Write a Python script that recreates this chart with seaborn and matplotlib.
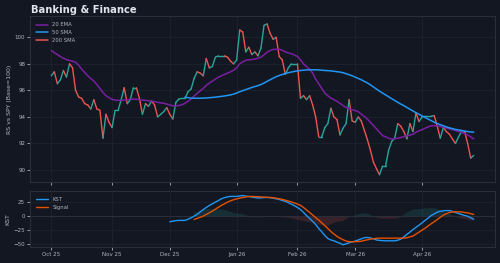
import matplotlib
matplotlib.use("Agg")
import matplotlib.pyplot as plt
import seaborn as sns
import numpy as np

# RS vs SPY (Base=100), one value per trading day, Oct 25 -> late Apr 26
rs = [97.1, 97.4, 96.5, 96.8, 97.5, 97.0, 98.0, 97.7, 96.0, 95.5,
      95.4, 95.0, 94.9, 94.6, 95.3, 94.6, 94.5, 92.4, 94.2, 93.6,
      93.2, 94.5, 94.5, 95.3, 96.2, 95.0, 95.3, 96.2, 96.2, 95.4,
      94.2, 95.0, 94.8, 95.2, 94.9, 94.0, 94.2, 94.4, 94.7, 94.2,
      93.85, 95.1, 95.35, 95.4, 95.4, 95.9, 96.1, 96.9, 97.4, 97.3,
      97.1, 98.4, 97.7, 97.8, 98.5, 98.6, 98.6, 98.6, 98.5, 98.2,
      98.0, 98.3, 100.55, 100.4, 98.9, 99.25, 98.7, 98.9, 98.6, 99.2,
      100.9, 101.0, 100.3, 99.85, 100.0, 98.55, 98.3, 97.2, 97.7, 98.0,
      98.0, 98.0, 95.4, 95.6, 95.3, 95.6, 94.9, 94.0, 92.5, 92.5,
      93.2, 93.5, 94.65, 94.0, 93.8, 92.65, 93.15, 93.5, 95.3, 93.7,
      93.6, 94.0, 93.7, 93.0, 92.3, 91.5, 90.6, 90.1, 89.65, 90.3,
      90.3, 91.5, 92.15, 92.4, 93.5, 93.3, 92.9, 92.35, 93.5, 92.9,
      94.3, 93.65, 94.0, 94.05, 94.05, 94.05, 94.1, 93.3, 92.4, 93.2,
      92.9, 92.7, 92.35, 92.0, 92.5, 92.9, 92.9, 92.0, 90.9, 91.1]

ema20 = [99.0, 98.85, 98.7, 98.55, 98.42, 98.32, 98.25, 98.2, 98.12, 97.9,
         97.6, 97.35, 97.1, 96.9, 96.7, 96.45, 96.15, 95.85, 95.6, 95.45,
         95.32, 95.27, 95.25, 95.24, 95.27, 95.3, 95.32, 95.34, 95.33, 95.3,
         95.27, 95.25, 95.22, 95.18, 95.15, 95.1, 95.06, 95.03, 94.97, 94.9,
         94.84, 94.83, 94.86, 94.92, 95.03, 95.18, 95.35, 95.58, 95.78, 95.97,
         96.15, 96.38, 96.55, 96.7, 96.85, 97.0, 97.1, 97.2, 97.3, 97.4,
         97.52, 97.7, 98.0, 98.15, 98.27, 98.3, 98.33, 98.36, 98.42, 98.5,
         98.68, 98.88, 99.0, 99.08, 99.1, 99.1, 99.02, 98.9, 98.82, 98.76,
         98.66, 98.56, 98.3, 98.0, 97.78, 97.6, 97.3, 96.85, 96.5, 96.15,
         95.8, 95.6, 95.42, 95.3, 95.18, 95.02, 94.86, 94.72, 94.62, 94.55,
         94.48, 94.4, 94.22, 94.05, 93.85, 93.6, 93.35, 93.1, 92.85, 92.6,
         92.5, 92.4, 92.33, 92.35, 92.4, 92.45, 92.52, 92.58, 92.63, 92.7,
         92.85, 92.95, 93.05, 93.15, 93.25, 93.33, 93.35, 93.33, 93.28, 93.22,
         93.17, 93.1, 93.05, 92.98, 92.9, 92.85, 92.75, 92.65, 92.5, 92.35]

sma50_start = 44
sma50 = [95.49, 95.45, 95.42, 95.41, 95.41, 95.41, 95.42, 95.43, 95.45, 95.47,
         95.49, 95.52, 95.55, 95.58, 95.62, 95.66, 95.72, 95.8, 95.9, 95.98,
         96.06, 96.14, 96.22, 96.29, 96.36, 96.44, 96.55, 96.68, 96.8, 96.92,
         97.03, 97.12, 97.2, 97.27, 97.33, 97.38, 97.43, 97.47, 97.5, 97.52,
         97.54, 97.55, 97.55, 97.55, 97.54, 97.52, 97.5, 97.49, 97.47, 97.44,
         97.41, 97.38, 97.33, 97.26, 97.18, 97.1, 97.0, 96.9, 96.8, 96.68,
         96.56, 96.42, 96.26, 96.1, 95.94, 95.8, 95.66, 95.52, 95.38, 95.24,
         95.1, 94.97, 94.85, 94.72, 94.58, 94.45, 94.32, 94.2, 94.08, 93.96,
         93.84, 93.72, 93.6, 93.5, 93.42, 93.33, 93.25, 93.18, 93.12, 93.06,
         93.02, 92.98, 92.94, 92.9, 92.87, 92.85]

sma200 = []  # not enough history, only shows in the legend

kst_start = 39
kst = [-10, -9, -8, -7.6, -7.6, -7.6, -5.5, -3, 0, 3.2,
       7.5, 11.7, 15.5, 19, 22, 25, 28, 31, 33, 34.5,
       35.2, 35.2, 35.3, 36, 36.8, 35.8, 35.1, 34, 33.2, 32.5,
       32.5, 33.2, 33.4, 33, 32.2, 31, 29.8, 28, 26.5, 24,
       21.5, 18.5, 15.5, 11.7, 6.5, 1, -4, -9.5, -15, -22,
       -28, -34.5, -40, -42.5, -44, -46.5, -48.5, -51, -49.5, -47.5,
       -46, -44.5, -42.5, -40.5, -38.5, -38, -39, -40.5, -42.5, -43.3,
       -43.8, -44, -44, -44, -44, -43, -41, -37, -32.5, -28.5,
       -24, -20, -16, -12, -7.5, -3.5, 1, 4.1, 7, 8.8,
       9.5, 10, 10, 8.5, 6.5, 4.8, 3, 1.2, 0, -3,
       -5.5]

signal_start = 47
signal = [-5.9, -4, -2, 0, 3, 6, 9, 12.5, 16, 19.3,
          22, 25, 27.5, 29.3, 30.8, 32.2, 33.3, 34.3, 35, 35.2,
          35, 34.7, 34.3, 34, 33.6, 33.4, 32.8, 32, 31, 30,
          28.5, 27, 25.5, 23.5, 21.5, 19.3, 15.5, 11, 6.5, 2,
          -2.5, -7, -12, -17, -22, -27.5, -32, -36, -39.3, -42,
          -44.5, -45.5, -45.7, -45.6, -45.3, -44.8, -43.5, -42.2, -41, -40.3,
          -39.6, -39.3, -39.3, -39.3, -39.3, -39.3, -39.3, -39.3, -39.3, -39.3,
          -38.5, -37, -35.5, -32, -28.5, -25, -21.5, -17.5, -13.5, -10,
          -6, -2, 1.8, 4.5, 6.5, 7.6, 7.8, 7.7, 7.5, 6.5,
          5.9, 4.5, 2.9]

month_labels = ["Oct 25", "Nov 25", "Dec 25", "Jan 26", "Feb 26", "Mar 26", "Apr 26"]
month_pos = [0, 20, 39, 61, 81, 100, 122]

# colours (dark trading-terminal look)
BG = "#131722"
GRID = "#1e2230"
EDGE = "#2a2e39"
TXT = "#b2b5be"
UP = "#26a69a"
DOWN = "#ef5350"

sns.set_theme(style="darkgrid", rc={
    "axes.facecolor": BG, "figure.facecolor": BG, "axes.edgecolor": EDGE,
    "grid.color": GRID, "grid.linewidth": 0.6, "axes.labelcolor": TXT,
    "xtick.color": TXT, "ytick.color": TXT, "text.color": TXT,
    "xtick.bottom": True, "ytick.left": True,
    "xtick.major.size": 2, "ytick.major.size": 2,
    "xtick.major.width": 0.6, "ytick.major.width": 0.6,
    "axes.linewidth": 0.8,
})
plt.rcParams["font.family"] = ["DejaVu Sans"]

fig = plt.figure(figsize=(5, 2.63), dpi=100)
ax = fig.add_axes([0.06, 0.308, 0.93, 0.631])
ax2 = fig.add_axes([0.06, 0.061, 0.93, 0.213], sharex=ax)

# price line coloured by direction
x = np.arange(len(rs))
for i in range(len(rs) - 1):
    c = UP if rs[i + 1] >= rs[i] else DOWN
    ax.plot(x[i:i + 2], rs[i:i + 2], color=c, lw=1.0, solid_capstyle="round", zorder=3)

sns.lineplot(x=x, y=ema20, ax=ax, color="#7b1fa2", lw=1.1, label="20 EMA", zorder=4)
sns.lineplot(x=np.arange(sma50_start, sma50_start + len(sma50)), y=sma50, ax=ax,
             color="#2196f3", lw=1.1, label="50 SMA", zorder=4)
ax.plot(np.arange(len(sma200)), sma200, color=DOWN, lw=1.1, label="200 SMA")

ax.set_ylim(89.1, 101.6)
ax.set_yticks([90, 92, 94, 96, 98, 100])
ax.set_ylabel("RS vs SPY (Base=100)", fontsize=4.5, labelpad=2)
ax.tick_params(labelsize=4, pad=1.5)
ax.tick_params(axis="x", labelbottom=False)
ax.legend(loc="upper left", fontsize=3.8, frameon=False, handlelength=2.2,
          labelcolor=TXT, borderaxespad=0.8)

# KST panel
kx = np.arange(kst_start, kst_start + len(kst))
sx = np.arange(signal_start, signal_start + len(signal))
k_over = np.array(kst[signal_start - kst_start:])
diff = k_over - np.array(signal)
ax2.fill_between(sx, 0, diff, where=diff >= 0, interpolate=True, color=UP, alpha=0.17, lw=0)
ax2.fill_between(sx, 0, diff, where=diff < 0, interpolate=True, color=DOWN, alpha=0.17, lw=0)
ax2.axhline(0, color=EDGE, lw=0.8, zorder=1)
sns.lineplot(x=kx, y=kst, ax=ax2, color="#2196f3", lw=1.0, label="KST", zorder=4)
sns.lineplot(x=sx, y=signal, ax=ax2, color="#e65100", lw=1.0, label="Signal", zorder=4)

ax2.set_ylim(-55, 45)
ax2.set_yticks([-50, -25, 0, 25])
ax2.set_ylabel("KST", fontsize=4.5, labelpad=2)
ax2.tick_params(labelsize=4, pad=1.5)
ax2.legend(loc="upper left", fontsize=3.8, frameon=False, handlelength=2.2,
           labelcolor=TXT, borderaxespad=0.8)

ax2.set_xlim(-7, 146)
ax2.set_xticks(month_pos)
ax2.set_xticklabels(month_labels)

fig.text(0.062, 0.962, "Banking & Finance", fontsize=7.2, fontweight="bold",
         color="#e0e3eb", ha="left", va="center")

fig.savefig("out.png", dpi=100, facecolor=BG)
